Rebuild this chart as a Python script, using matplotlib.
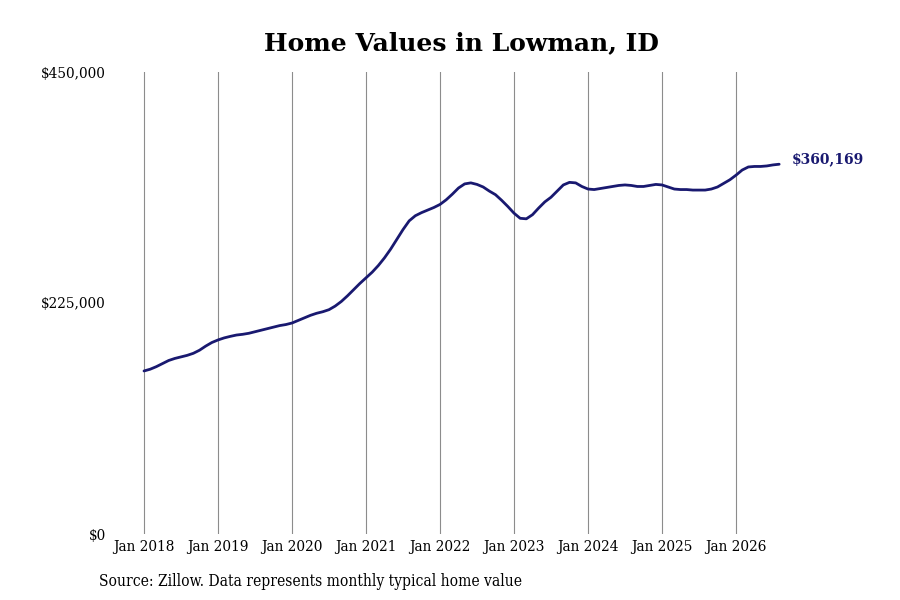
import matplotlib
matplotlib.use("Agg")
import matplotlib.pyplot as plt
import numpy as np

# monthly typical home value, Jan 2018 .. Aug 2026 (in $1,000)
start_year = 2018
values_k = [
    158.8, 160.5, 163.0, 166.0, 169.0, 171.0, 172.5, 174.0, 176.0, 179.0, 183.0, 186.5,  # 2018
    189.0, 191.0, 192.5, 193.8, 194.5, 195.5, 197.0, 198.5, 200.0, 201.5, 203.0, 204.0,  # 2019
    205.5, 208.0, 210.5, 213.0, 215.0, 216.5, 218.5, 222.0, 226.5, 232.0, 238.0, 244.0,  # 2020
    249.5, 255.0, 261.5, 269.0, 277.5, 287.0, 296.5, 305.0, 310.0, 313.0, 315.5, 318.0,  # 2021
    321.0, 325.5, 331.0, 337.0, 341.0, 342.0, 340.5, 338.0, 334.0, 330.5, 325.0, 319.0,  # 2022
    312.5, 307.5, 307.0, 311.0, 317.5, 323.5, 328.0, 334.0, 340.0, 342.5, 342.0, 338.5,  # 2023
    336.0, 335.5, 336.5, 337.5, 338.5, 339.5, 340.0, 339.5, 338.5, 338.5, 339.5, 340.5,  # 2024
    340.0, 338.0, 336.0, 335.5, 335.5, 335.0, 335.0, 335.0, 336.0, 338.0, 341.5, 345.0,  # 2025
    349.5, 354.5, 357.5, 358.0, 358.0, 358.5, 359.5, 360.169,                            # 2026
]
last_label = "$360,169"
year_ticks = list(range(2018, 2027))
year_labels = [f"Jan {y}" for y in year_ticks]
y_ticks = [0, 225000, 450000]
y_labels = ["$0", "$225,000", "$450,000"]

values = np.array(values_k) * 1000
x = start_year + np.arange(len(values)) / 12.0

line_color = "#191970"
serif = ["DejaVu Serif"]

fig = plt.figure(figsize=(9, 6), dpi=100)
ax = fig.add_axes([110 / 900, 66 / 600, 720 / 900, 462 / 600])

ax.plot(x, values, color=line_color, linewidth=2.0, solid_capstyle="round")
ax.set_xlim(2018 - 34 / 74, 2018 - 34 / 74 + 720 / 74)
ax.set_ylim(0, 450000)

ax.set_xticks(year_ticks)
ax.set_xticklabels(year_labels, family=serif, fontsize=11, fontstretch="condensed")
ax.set_yticks(y_ticks)
ax.set_yticklabels(y_labels, family=serif, fontsize=9.8)
ax.tick_params(axis="both", length=0)
ax.tick_params(axis="x", pad=4)
ax.tick_params(axis="y", pad=3)

for s in ax.spines.values():
    s.set_visible(False)
ax.grid(axis="x", color="#8c8c8c", linewidth=0.8)
ax.grid(axis="y", visible=False)

ax.annotate(last_label, xy=(x[-1], values[-1]), xytext=(9, 3.5), textcoords="offset points",
            color=line_color, fontsize=10, fontweight="bold", family=serif, va="center")

fig.text(461 / 900, 1 - 43 / 600, "Home Values in Lowman, ID", ha="center", va="center",
         fontsize=18, fontweight="bold", family=serif)
fig.text(99 / 900, 1 - 581 / 600, "Source: Zillow. Data represents monthly typical home value",
         ha="left", va="center", fontsize=11.2, family=serif, fontstretch="condensed")

fig.savefig("out.png", dpi=100)
